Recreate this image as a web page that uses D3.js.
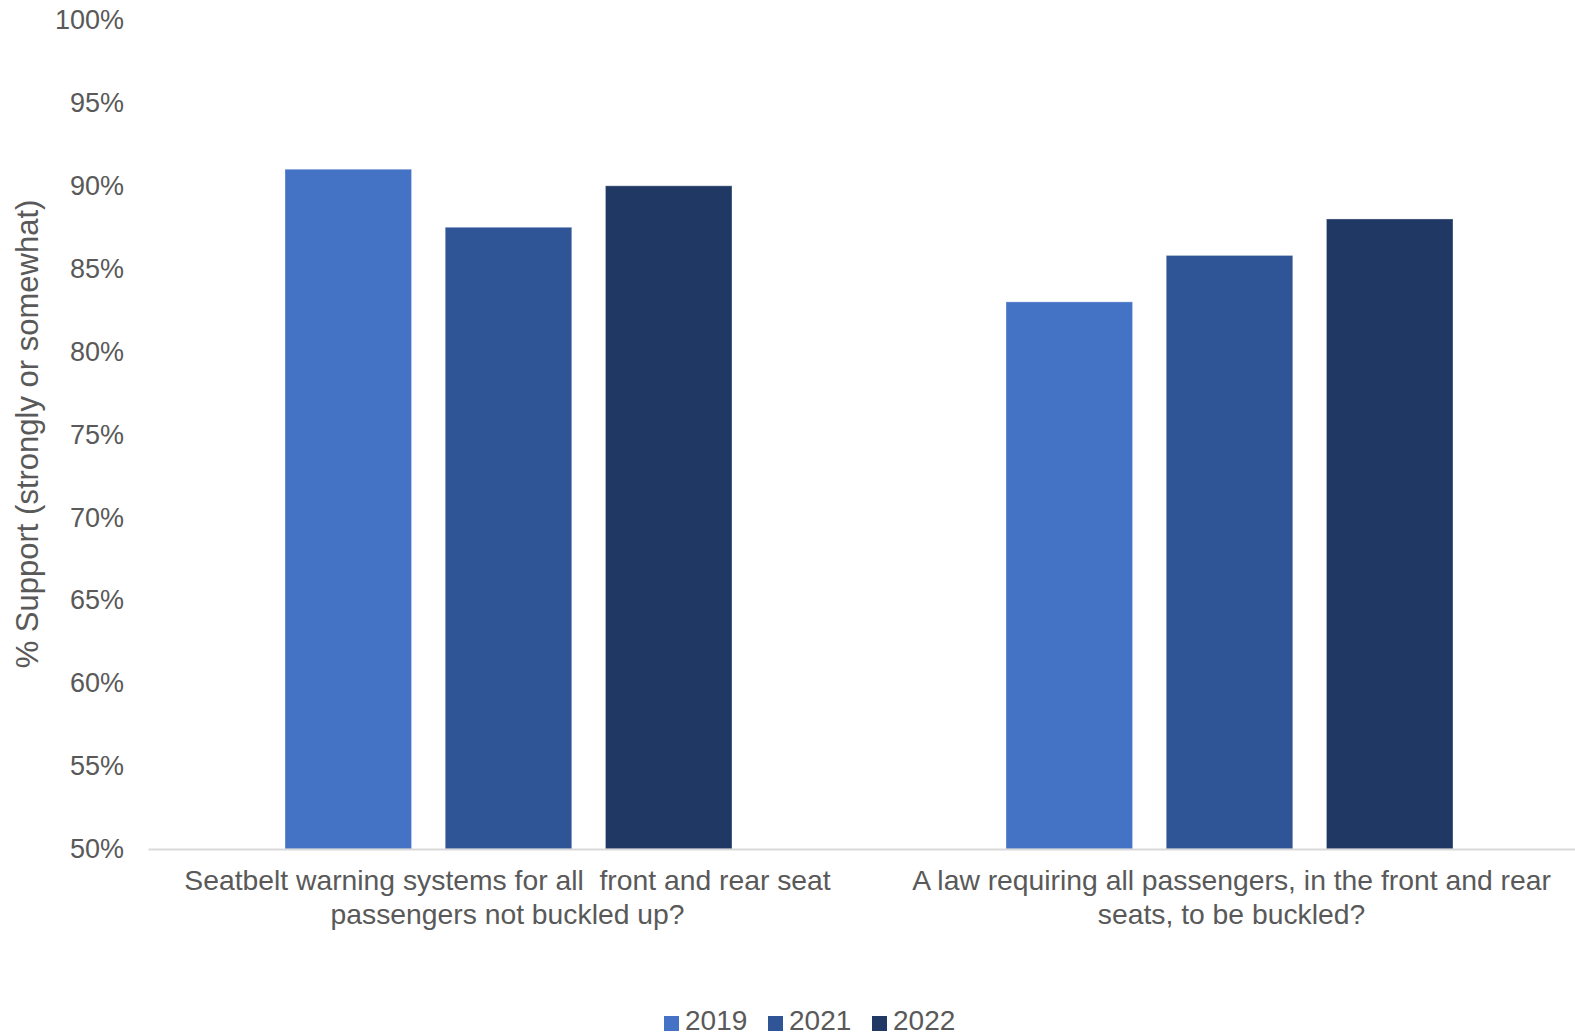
<!DOCTYPE html>
<html>
<head>
<meta charset="utf-8">
<script src="https://cdn.jsdelivr.net/npm/d3@7"></script>
<style>
  html, body { margin: 0; padding: 0; background: #fff; }
  svg text { font-family: "Liberation Sans", Arial, sans-serif; fill: #595959; }
</style>
</head>
<body>
<svg id="chart" width="1575" height="1036"></svg>
<script>
// Survey questions (x categories), split into display lines
const categories = [
  "Seatbelt warning systems for all  front and rear seat passengers not buckled up?",
  "A law requiring all passengers, in the front and rear seats, to be buckled?"
];
const categoryLines = [
  ["Seatbelt warning systems for all\u00a0 front and rear seat", "passengers not buckled up?"],
  ["A law requiring all passengers, in the front and rear", "seats, to be buckled?"]
];
const seriesNames = ["2019", "2021", "2022"];
const values2019 = [91.0, 83.0];
const values2021 = [87.5, 85.8];
const values2022 = [90.0, 88.0];
const yTicks = [50, 55, 60, 65, 70, 75, 80, 85, 90, 95, 100];
const colors = ["#4472C4", "#2F5597", "#203864"];

const seriesValues = [values2019, values2021, values2022];
const svg = d3.select("#chart");

const plot = { left: 148, right: 1590, top: 20, bottom: 849 };

const y = d3.scaleLinear().domain([50, 100]).range([plot.bottom, plot.top]);
const x0 = d3.scaleBand().domain(categories).range([plot.left, plot.right]).paddingInner(0).paddingOuter(0);
const x1 = d3.scaleBand().domain(seriesNames)
  .range([137, x0.bandwidth() - 137]).paddingInner(0.21).paddingOuter(0);
const color = d3.scaleOrdinal().domain(seriesNames).range(colors);

// Y axis tick labels (no axis line, no ticks)
const yAxis = d3.axisLeft(y).tickValues(yTicks).tickFormat(d => d + "%").tickSize(0).tickPadding(0);
const gy = svg.append("g").attr("transform", "translate(124,0)").call(yAxis);
gy.select(".domain").remove();
gy.selectAll("text").style("font-size", "27px").attr("fill", "#595959").attr("font-family", "Liberation Sans, Arial, sans-serif");

// Bars
const groups = svg.append("g").selectAll("g")
  .data(categories).join("g")
  .attr("transform", d => `translate(${x0(d)},0)`);

groups.selectAll("rect")
  .data((d, i) => seriesNames.map((s, j) => ({ s, v: seriesValues[j][i] })))
  .join("rect")
  .attr("x", d => x1(d.s))
  .attr("width", x1.bandwidth())
  .attr("y", d => y(d.v))
  .attr("height", d => y(50) - y(d.v))
  .attr("fill", d => color(d.s))
  .attr("stroke", "rgba(255,255,255,0.35)")
  .attr("stroke-width", 1);

// Baseline
const xAxis = d3.axisBottom(x0).tickSize(0).tickFormat("");
const gx = svg.append("g").attr("transform", `translate(0,${plot.bottom})`).call(xAxis);
gx.select(".domain").attr("stroke", "#d9d9d9").attr("stroke-width", 2);

// Category labels (two lines each)
categories.forEach((c, i) => {
  const cx = x0(c) + x0.bandwidth() / 2 + (i === 1 ? 2 : -1);
  const t = svg.append("text")
    .attr("x", cx).attr("y", 890)
    .attr("text-anchor", "middle")
    .style("font-size", "28.3px");
  categoryLines[i].forEach((line, k) => {
    t.append("tspan").attr("x", cx).attr("dy", k === 0 ? 0 : 34).text(line);
  });
});

// Y axis title
svg.append("text")
  .attr("transform", "translate(38,434) rotate(-90)")
  .attr("text-anchor", "middle")
  .style("font-size", "31px")
  .text("% Support (strongly or somewhat)");

// Legend
const legend = svg.append("g").attr("transform", "translate(664,1016)");
const items = legend.selectAll("g").data(seriesNames).join("g")
  .attr("transform", (d, i) => `translate(${i * 104},0)`);
items.append("rect").attr("width", 15).attr("height", 15).attr("fill", d => color(d));
items.append("text").attr("x", 21).attr("y", 14).style("font-size", "28px").text(d => d);
</script>
</body>
</html>
